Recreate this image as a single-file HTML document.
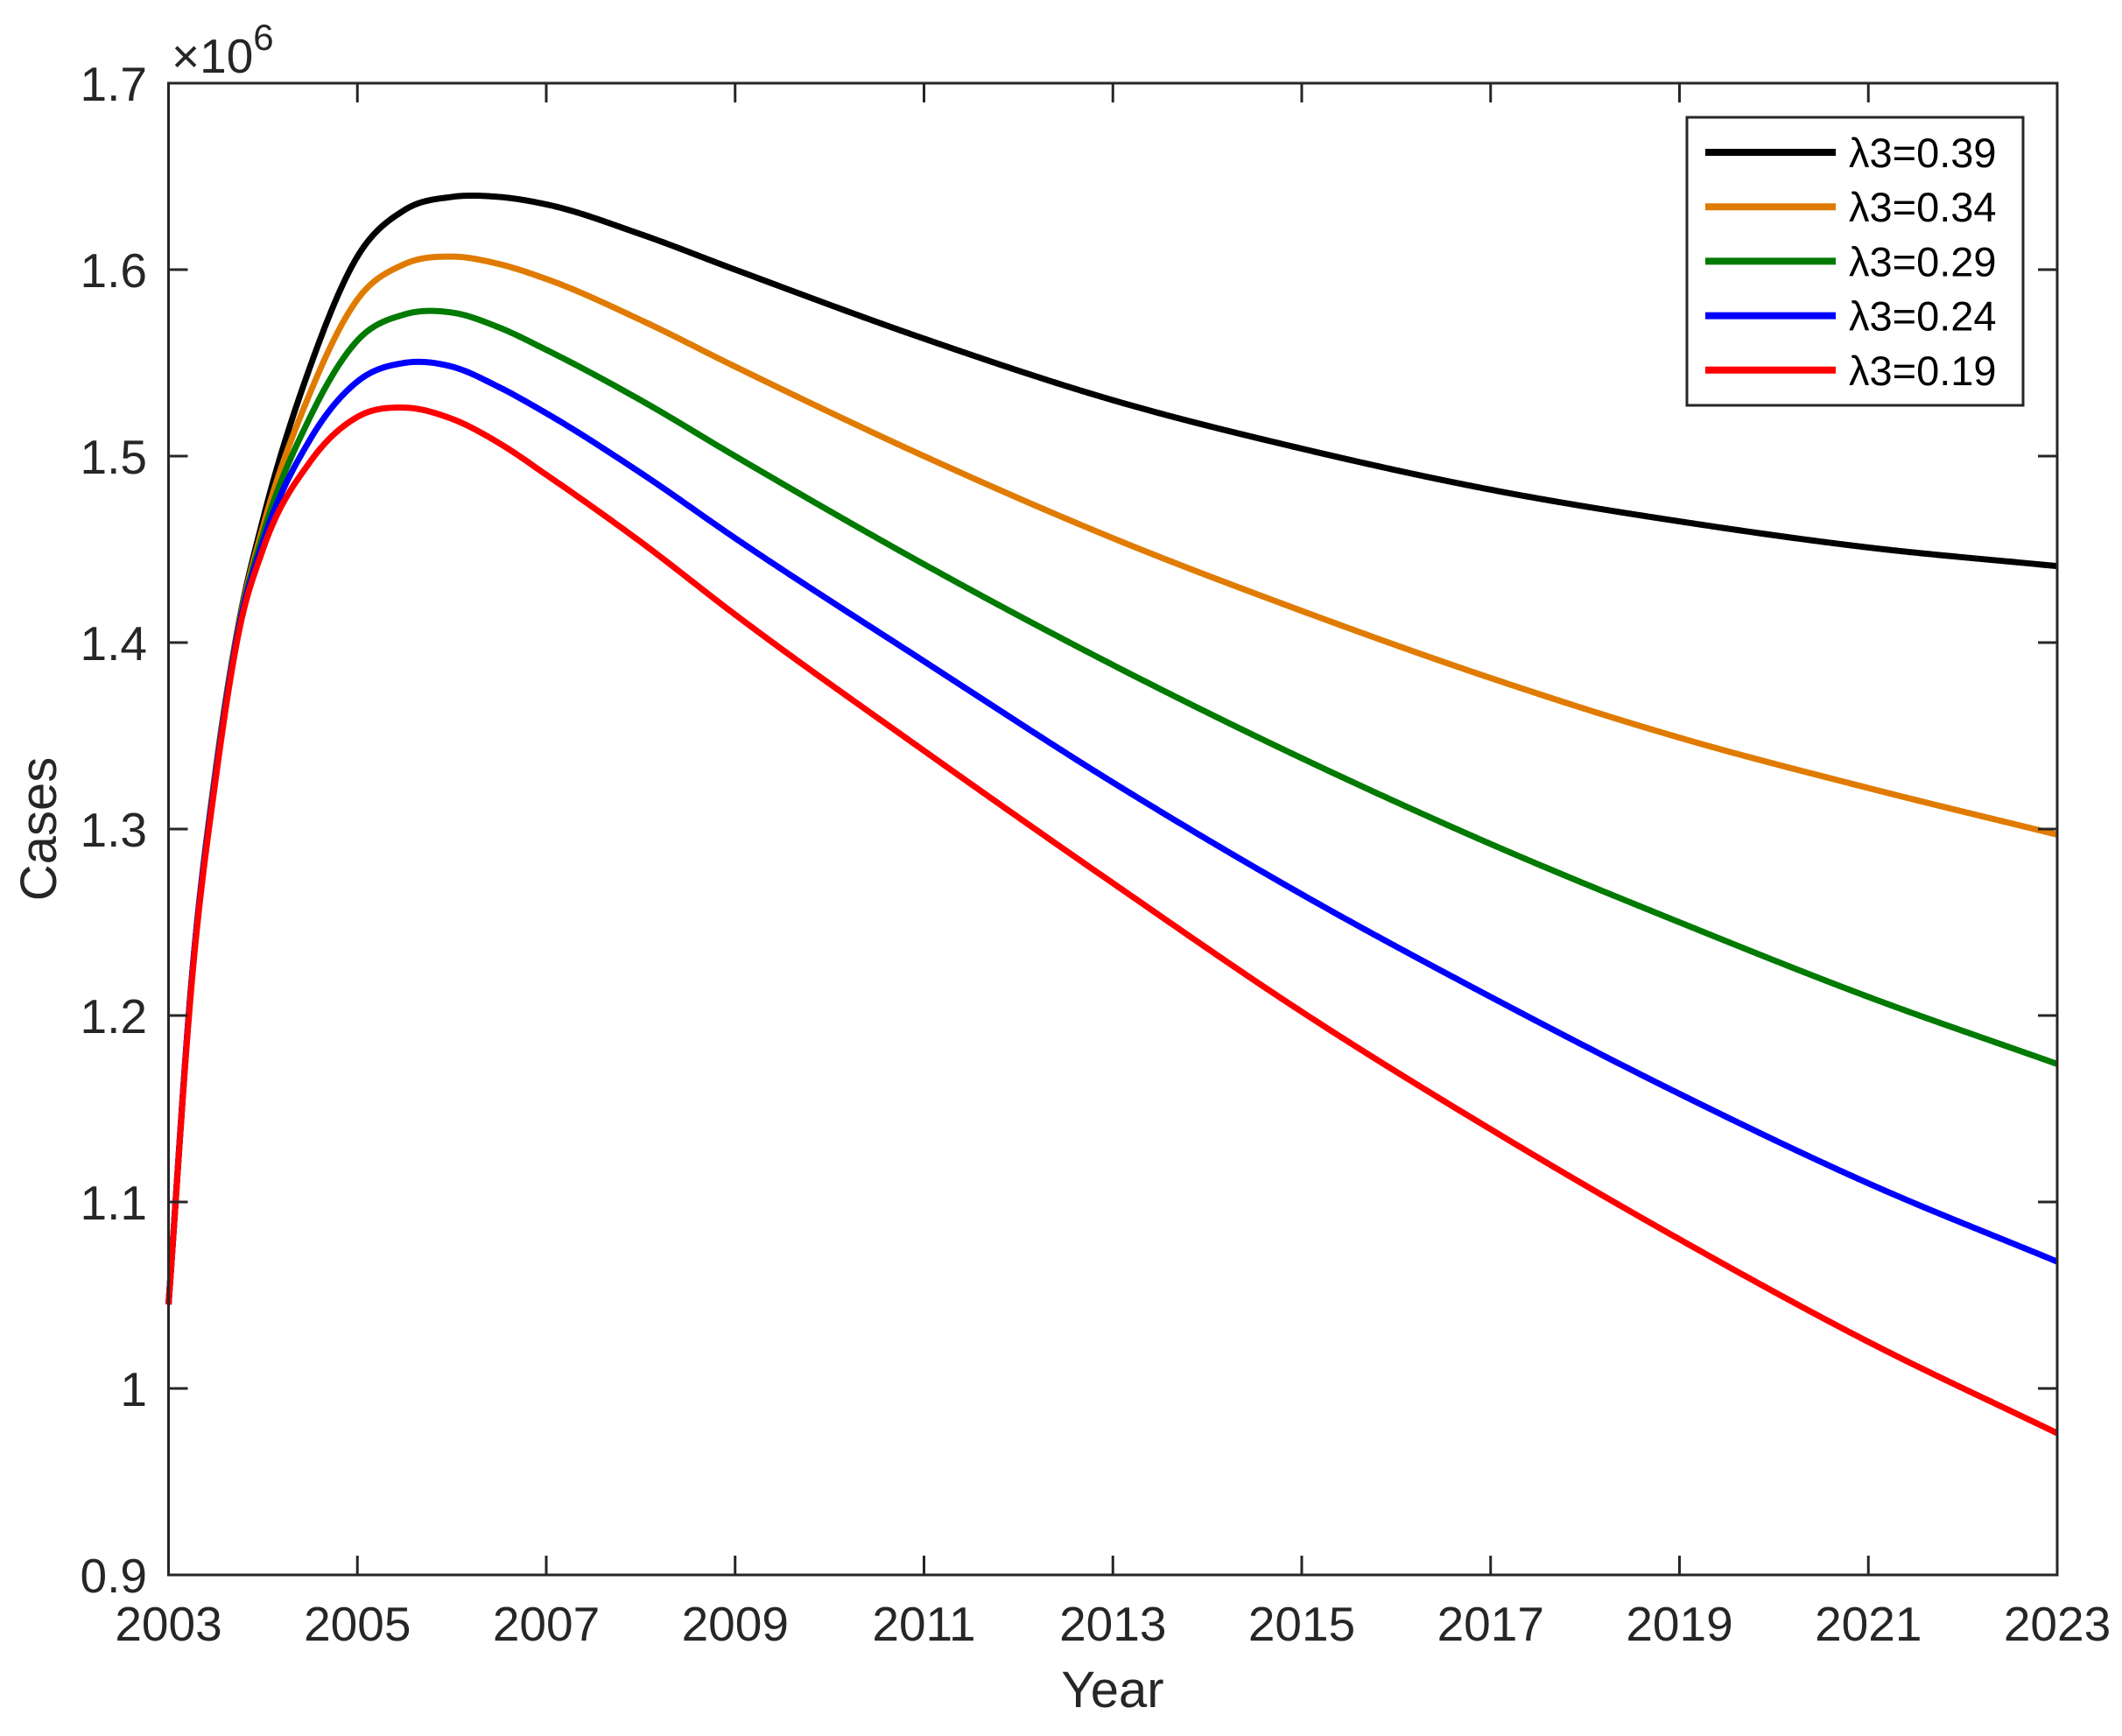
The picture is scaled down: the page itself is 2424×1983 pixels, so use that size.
<!DOCTYPE html>
<html><head><meta charset="utf-8"><style>
html,body{margin:0;padding:0;background:#fff;}
svg{display:block;font-family:"Liberation Sans",Arial,sans-serif;}
</style></head><body>
<svg id="chart" width="2424" height="1983" viewBox="0 0 2424 1983" xmlns="http://www.w3.org/2000/svg">
<rect width="2424" height="1983" fill="#fff"/>
<g id="series"></g>
<rect x="192.5" y="95" width="2157.5" height="1704" fill="none" stroke="#262626" stroke-width="3"/>
<g id="axes"></g>
<text x="196" y="83" font-size="55" fill="#262626">×10<tspan dy="-26" font-size="42">6</tspan></text>
<text x="1271" y="1950" font-size="58" fill="#262626" text-anchor="middle">Year</text>
<text x="0" y="0" font-size="58" fill="#262626" text-anchor="middle" transform="translate(64,947) rotate(-90)">Cases</text>
<g id="legend">
<rect x="1927" y="134" width="384" height="329" fill="#fff" stroke="#262626" stroke-width="3"/>
</g>
</svg>
<script>
const years = [2003,2003.25,2003.5,2003.75,2004,2004.5,2005,2005.5,2006,2006.5,2007,2008,2009,2011,2013,2015,2017,2019,2021,2023];
const s039 = [1.045,1.222,1.332,1.412,1.466,1.548,1.607,1.632,1.639,1.639,1.635,1.619,1.600,1.563,1.530,1.504,1.482,1.465,1.451,1.441];
const s034 = [1.045,1.222,1.331,1.411,1.462,1.534,1.584,1.603,1.607,1.603,1.595,1.573,1.548,1.500,1.456,1.417,1.381,1.349,1.322,1.297];
const s029 = [1.045,1.222,1.330,1.410,1.458,1.521,1.562,1.576,1.577,1.569,1.557,1.530,1.500,1.442,1.388,1.338,1.292,1.250,1.210,1.174];
const s024 = [1.045,1.222,1.329,1.409,1.454,1.509,1.540,1.550,1.548,1.537,1.523,1.491,1.456,1.390,1.325,1.265,1.210,1.158,1.110,1.068];
const s019 = [1.045,1.220,1.327,1.407,1.450,1.497,1.521,1.526,1.520,1.507,1.490,1.454,1.415,1.342,1.271,1.202,1.139,1.080,1.025,0.976];
const seriesLabels = ["λ3=0.39","λ3=0.34","λ3=0.29","λ3=0.24","λ3=0.19"];
const xTicks = [2003,2005,2007,2009,2011,2013,2015,2017,2019,2021,2023];
const yTicks = [0.9,1,1.1,1.2,1.3,1.4,1.5,1.6,1.7];
const yTickLabels = ["0.9","1","1.1","1.2","1.3","1.4","1.5","1.6","1.7"];

const NS="http://www.w3.org/2000/svg";
const L=192.5,R=2350,T=95,B=1799;
const xs=v=>L+(v-2003)/(2023-2003)*(R-L);
const ys=v=>B-(v-0.9)/(1.7-0.9)*(B-T);
const colors=["#000000","#e07b00","#007a00","#0000ff","#ff0000"];
const allSeries=[s039,s034,s029,s024,s019];
const axes=document.getElementById('axes');
function mk(tag,attrs,parent){const e=document.createElementNS(NS,tag);for(const k in attrs)e.setAttribute(k,attrs[k]);parent.appendChild(e);return e;}
xTicks.forEach((t,i)=>{
  const x=xs(t);
  const g=mk('g',{},axes);
  
  
  mk('line',{x1:x,x2:x,y1:B,y2:B-22,stroke:'#262626','stroke-width':3},g);
  mk('line',{x1:x,x2:x,y1:T,y2:T+22,stroke:'#262626','stroke-width':3},g);
  const tx=mk('text',{x:x,y:1874,'font-size':55,fill:'#262626','text-anchor':'middle'},g);
  tx.textContent=String(t);
});
yTicks.forEach((t,i)=>{
  const y=ys(t);
  const g=mk('g',{},axes);
  
  
  mk('line',{x1:L,x2:L+22,y1:y,y2:y,stroke:'#262626','stroke-width':3},g);
  mk('line',{x1:R-22,x2:R,y1:y,y2:y,stroke:'#262626','stroke-width':3},g);
  const tx=mk('text',{x:168,y:y+20,'font-size':55,fill:'#262626','text-anchor':'end'},g);
  tx.textContent=yTickLabels[i];
});
// Non-uniform cubic Hermite with weighted three-point tangents, sampled densely
function smoothPath(xv,yv){
  const n=xv.length,h=[],d=[],m=[];
  for(let i=0;i<n-1;i++){h.push(xv[i+1]-xv[i]);d.push((yv[i+1]-yv[i])/h[i]);}
  m[0]=d[0];m[n-1]=d[n-2];
  for(let i=1;i<n-1;i++){
    m[i]=(h[i]*d[i-1]+h[i-1]*d[i])/(h[i-1]+h[i]);
  }
  let pts=[];
  for(let i=0;i<n-1;i++){
    const steps=Math.max(10,Math.ceil(h[i]*40));
    for(let k=0;k<steps;k++){
      const t=k/steps,t2=t*t,t3=t2*t;
      const y=(2*t3-3*t2+1)*yv[i]+(t3-2*t2+t)*h[i]*m[i]+(-2*t3+3*t2)*yv[i+1]+(t3-t2)*h[i]*m[i+1];
      pts.push(xs(xv[i]+t*h[i]).toFixed(2)+','+ys(y).toFixed(2));
    }
  }
  pts.push(xs(xv[n-1]).toFixed(2)+','+ys(yv[n-1]).toFixed(2));
  return 'M'+pts.join(' L');
}
const sg=document.getElementById('series');
allSeries.forEach((s,i)=>{
  const path=mk('path',{d:smoothPath(years,s),fill:'none',stroke:colors[i],'stroke-width':7,'stroke-linejoin':'round'},sg);
  
  
});
const lg=document.getElementById('legend');
seriesLabels.forEach((lab,i)=>{
  const y=174+i*62.2;
  const g=mk('g',{},lg);
  
  
  mk('line',{x1:1948,x2:2097,y1:y,y2:y,stroke:colors[i],'stroke-width':8},g);
  const tx=mk('text',{x:2112,y:y+17,'font-size':47,fill:'#000'},g);
  tx.textContent=lab;
});
</script>
</body></html>
